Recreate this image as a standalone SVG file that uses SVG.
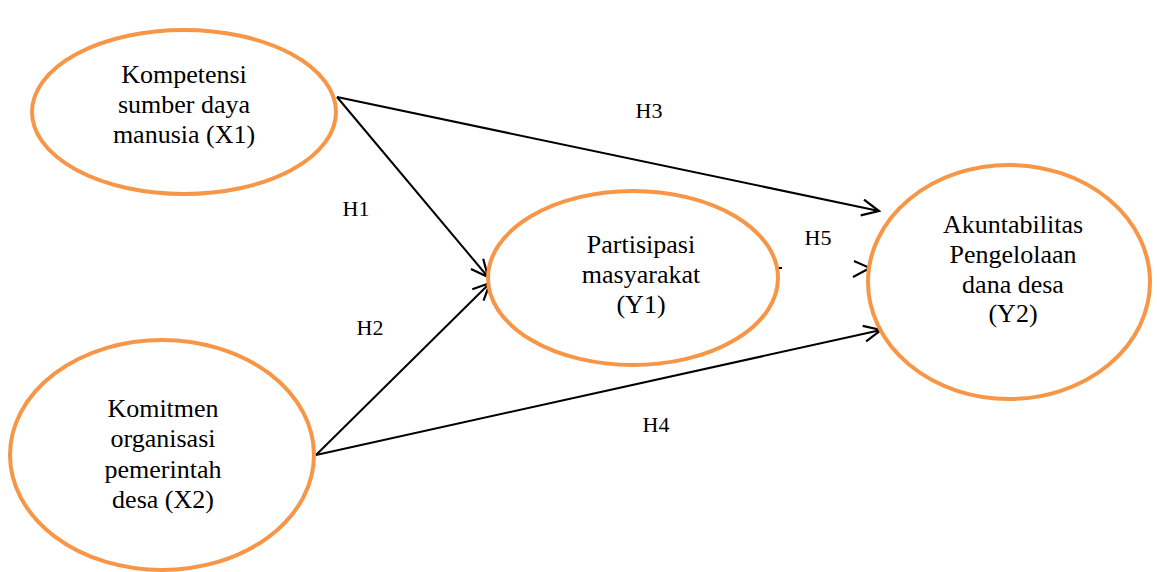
<svg xmlns="http://www.w3.org/2000/svg" width="1157" height="572" viewBox="0 0 1157 572">
<style>
.node{fill:#fff;stroke:#F79646;stroke-width:4}
.t{font-family:"Liberation Serif","Times New Roman",serif;font-size:26px;fill:#000;text-anchor:middle}
.h{font-family:"Liberation Serif","Times New Roman",serif;font-size:22px;fill:#000;text-anchor:middle}
.c{stroke:#000;stroke-width:2;fill:none}
</style>
<defs>
<marker id="arr" markerUnits="userSpaceOnUse" markerWidth="24" markerHeight="24" viewBox="-20 -12 24 24" refX="0" refY="0" orient="auto">
<path d="M-17,-8 L0,0 L-17,8" fill="none" stroke="#000" stroke-width="2.2"/>
</marker>
</defs>
<rect width="1157" height="572" fill="#fff"/>
<g id="connectors">
<line class="c" x1="337" y1="97" x2="488" y2="277" marker-end="url(#arr)"/>
<line class="c" x1="316" y1="455" x2="490" y2="283" marker-end="url(#arr)"/>
<line class="c" x1="337" y1="97" x2="879" y2="211" marker-end="url(#arr)"/>
<line class="c" x1="316" y1="455" x2="881" y2="330" marker-end="url(#arr)"/>
<line class="c" x1="775" y1="268" x2="782" y2="268"/>
<path class="c" d="M854,261 L870,268 L853,277" stroke-width="2.2"/>
</g>
<g id="labels">
<text class="h" x="649" y="118">H3</text>
<text class="h" x="356" y="216">H1</text>
<text class="h" x="370" y="335">H2</text>
<text class="h" x="656" y="432">H4</text>
<text class="h" x="818" y="245">H5</text>
</g>
<g id="X1">
<ellipse class="node" cx="184" cy="112" rx="152" ry="82"/>
<text class="t" x="184" y="83">Kompetensi</text>
<text class="t" x="184" y="113">sumber daya</text>
<text class="t" x="184" y="143">manusia (X1)</text>
</g>
<g id="X2">
<ellipse class="node" cx="162" cy="455" rx="152" ry="115"/>
<text class="t" x="163" y="417">Komitmen</text>
<text class="t" x="163" y="447">organisasi</text>
<text class="t" x="163" y="478">pemerintah</text>
<text class="t" x="163" y="508">desa (X2)</text>
</g>
<g id="Y1">
<ellipse class="node" cx="633" cy="278" rx="145" ry="87"/>
<text class="t" x="641" y="253">Partisipasi</text>
<text class="t" x="641" y="283">masyarakat</text>
<text class="t" x="641" y="313">(Y1)</text>
</g>
<g id="Y2">
<ellipse class="node" cx="1009" cy="282" rx="141" ry="117"/>
<text class="t" x="1013" y="233">Akuntabilitas</text>
<text class="t" x="1013" y="263">Pengelolaan</text>
<text class="t" x="1013" y="293">dana desa</text>
<text class="t" x="1013" y="322">(Y2)</text>
</g>
</svg>
